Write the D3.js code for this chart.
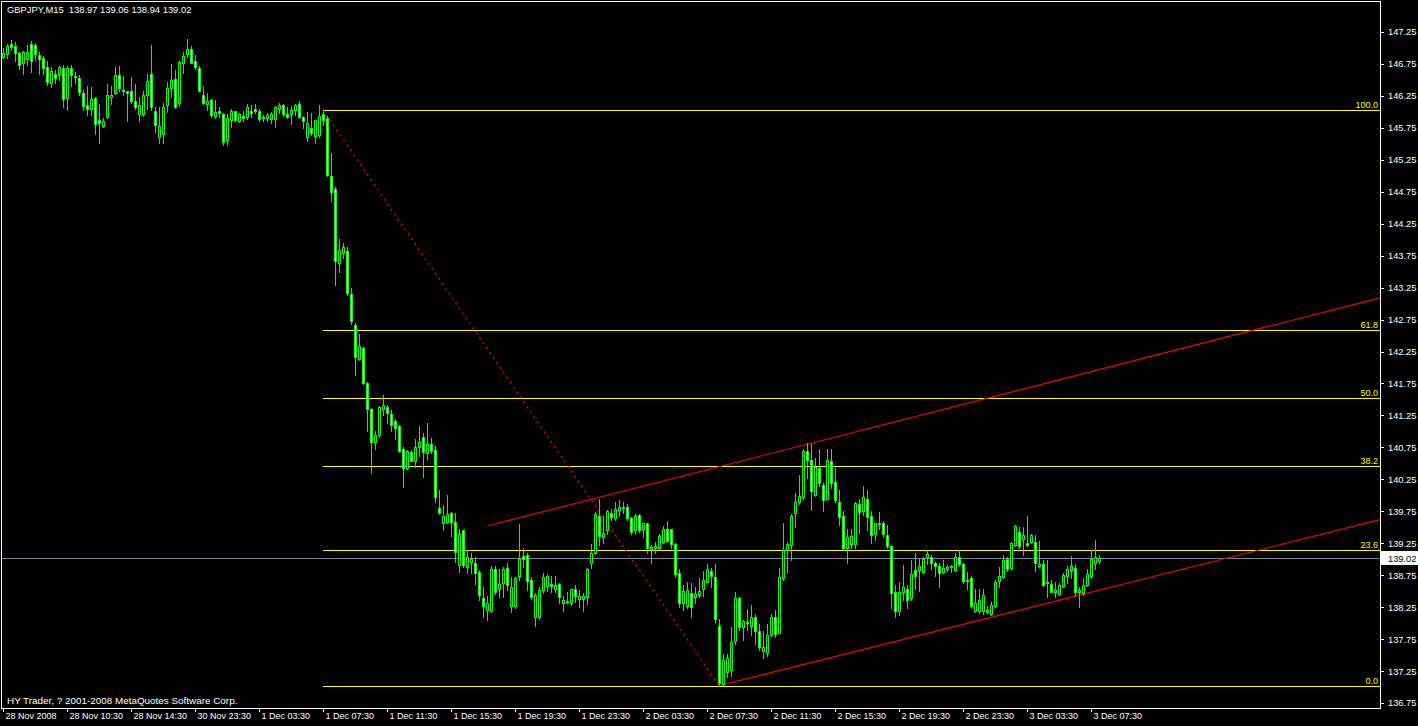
<!DOCTYPE html>
<html><head><meta charset="utf-8">
<script src="https://cdn.jsdelivr.net/npm/d3@7"></script>
<style>
html,body{margin:0;padding:0;background:#000;overflow:hidden}
svg{display:block}
text{font-family:"Liberation Sans",Arial,sans-serif;font-size:9px}
</style></head><body>
<svg id="c" width="1418" height="726"></svg>
<script>
const symbolTitle = "GBPJPY,M15";
const lastQuote = [138.97, 139.06, 138.94, 139.02];
const footerText = "HY Trader, ? 2001-2008 MetaQuotes Software Corp.";

const opens = [
146.86,146.90,147.06,147.03,146.92,146.76,146.82,147.07,147.04,146.89,
146.85,146.71,146.45,146.60,146.58,146.68,146.21,146.68,146.56,146.53,
146.29,146.10,146.04,146.21,145.87,145.78,145.92,146.24,146.29,146.58,
146.35,146.32,146.32,146.17,145.97,145.97,146.26,146.60,146.01,145.61,
145.66,146.10,146.38,146.51,146.14,146.77,146.91,146.99,146.79,146.68,
146.27,146.13,146.19,145.94,146.02,145.96,145.56,145.87,146.01,145.86,
145.94,145.92,146.01,146.04,146.02,145.92,145.90,145.89,145.89,146.05,
146.10,145.97,145.96,146.03,146.12,145.92,145.60,145.74,145.62,145.64,
145.97,145.90,144.99,144.79,143.63,143.79,143.82,143.15,142.66,142.14,
142.30,141.76,141.35,140.84,140.95,141.35,141.38,141.27,141.16,141.08,
140.73,140.42,140.67,140.53,140.76,140.91,140.66,140.81,140.71,139.80,
139.57,139.59,139.73,139.59,138.91,139.45,138.88,138.96,138.94,138.80,
138.40,138.20,138.19,138.84,138.54,138.63,138.86,138.27,138.27,138.73,
139.05,139.07,138.67,138.09,138.10,138.52,138.58,138.61,138.53,138.61,
138.31,138.35,138.31,138.53,138.38,138.38,138.41,138.94,139.10,139.68,
139.35,139.45,139.73,139.64,139.77,139.81,139.81,139.64,139.45,139.69,
139.48,139.56,139.16,139.17,139.17,139.27,139.48,139.47,139.24,138.79,
138.32,138.27,138.47,138.41,138.44,138.54,138.65,138.82,138.72,137.96,
137.05,137.24,137.26,137.72,138.39,137.94,138.00,137.95,138.09,137.87,
137.57,137.53,137.82,138.09,137.85,138.70,139.15,139.22,139.73,139.90,
139.97,140.70,140.55,140.00,140.42,140.16,139.95,140.54,140.21,139.90,
139.68,139.17,139.24,139.24,139.87,139.76,139.95,139.68,139.40,139.55,
139.56,139.38,139.20,138.48,138.19,138.48,138.53,138.39,138.83,138.83,
138.80,139.03,139.03,138.94,138.90,138.80,138.85,138.88,138.83,139.03,
138.93,138.66,138.70,138.19,138.19,138.19,138.18,138.15,138.27,138.66,
138.72,139.00,138.86,139.22,139.43,139.31,139.26,139.27,139.27,138.89,
138.92,138.63,138.61,138.49,138.45,138.58,138.74,138.83,138.86,138.48,
138.47,138.60,138.74,138.94,138.97];

const highs = [
147.00,147.07,147.12,147.09,146.94,146.96,147.05,147.11,147.08,146.94,
146.87,146.79,146.71,146.66,146.72,146.74,146.72,146.74,146.63,146.58,
146.35,146.40,146.39,146.24,146.12,145.90,146.44,146.40,146.71,146.72,
146.56,146.33,146.55,146.44,146.24,146.33,146.60,147.05,146.07,146.08,
146.14,146.47,146.75,146.66,146.79,146.93,147.14,147.03,146.89,146.72,
146.40,146.30,146.20,146.19,146.08,145.99,145.97,146.05,146.02,145.98,
146.01,146.12,146.11,146.13,146.05,145.95,145.98,146.00,146.09,146.14,
146.13,146.07,146.09,146.12,146.17,145.94,146.00,145.99,145.88,146.11,
146.03,145.94,145.35,144.82,144.01,143.95,143.89,143.25,142.70,142.52,
142.32,141.78,141.36,141.01,141.40,141.57,141.41,141.33,141.19,141.10,
140.75,140.71,140.71,140.88,141.08,140.97,141.13,140.89,140.77,140.09,
139.85,140.00,139.74,139.72,139.48,139.46,139.15,139.09,139.04,138.83,
138.56,138.42,138.89,138.89,138.84,138.88,138.94,138.72,138.72,139.55,
139.17,139.09,138.72,138.47,138.56,138.79,138.77,138.74,138.74,138.63,
138.42,138.49,138.54,138.60,138.52,138.47,138.86,139.24,139.74,139.95,
139.68,139.77,139.78,139.90,139.92,139.90,139.86,139.66,139.71,139.71,
139.57,139.57,139.22,139.27,139.40,139.52,139.60,139.48,139.25,138.84,
138.60,138.65,138.62,138.57,138.70,138.82,138.93,138.87,138.93,138.06,
137.52,137.52,137.94,138.48,138.41,138.05,138.22,138.28,138.15,137.99,
137.87,137.99,138.15,138.20,138.86,139.56,139.27,139.71,140.04,140.32,
140.72,140.82,140.81,140.59,140.73,140.19,140.73,140.73,140.42,140.09,
139.76,139.47,139.47,139.90,139.95,140.14,140.09,139.76,139.57,139.74,
139.60,139.53,139.21,138.60,138.65,138.91,138.60,138.98,139.09,139.00,
139.03,139.15,139.07,138.96,138.94,138.98,138.91,138.91,139.09,139.14,
138.94,138.80,138.74,138.53,138.54,138.53,138.27,138.33,138.67,138.88,
139.07,139.03,139.27,139.53,139.51,139.50,139.68,139.40,139.38,139.29,
138.98,138.99,138.68,138.65,138.62,138.79,138.89,139.05,138.92,138.56,
138.70,138.84,139.14,139.30,139.06];

const lows = [
146.84,146.85,146.97,146.79,146.67,146.60,146.73,146.63,146.81,146.60,
146.60,146.42,146.39,146.45,146.50,146.07,146.03,146.40,146.45,146.26,
146.03,145.95,145.95,145.66,145.52,145.77,145.91,146.13,146.28,146.33,
146.26,145.85,146.14,146.04,145.86,145.94,146.04,146.03,145.69,145.51,
145.51,146.00,146.24,146.06,146.09,146.61,146.86,146.76,146.67,146.32,
146.13,146.03,145.92,145.90,145.92,145.48,145.48,145.76,145.85,145.84,
145.85,145.89,145.92,145.98,145.85,145.86,145.85,145.83,145.77,145.99,
145.94,145.90,145.81,145.95,145.91,145.74,145.55,145.64,145.52,145.60,
145.79,144.99,144.61,143.29,143.50,143.71,143.13,142.68,141.88,142.12,
141.74,141.01,140.35,140.73,140.91,141.26,141.13,141.01,140.88,140.68,
140.13,140.41,140.53,140.44,140.61,140.29,140.57,140.66,139.90,139.71,
139.45,139.57,139.36,138.96,138.80,138.88,138.79,138.78,138.61,138.36,
138.10,138.05,138.18,138.45,138.41,138.41,138.52,138.18,138.23,138.67,
138.88,138.52,138.37,137.96,138.07,138.47,138.51,138.49,138.48,138.31,
138.19,138.31,138.28,138.33,138.26,138.19,138.30,138.86,139.08,139.22,
139.25,139.40,139.62,139.62,139.68,139.73,139.62,139.39,139.40,139.43,
139.34,139.09,138.94,139.10,139.15,139.25,139.27,139.17,138.72,138.26,
138.20,138.23,138.09,138.32,138.41,138.42,138.64,138.56,138.02,137.02,
137.03,137.15,137.17,137.68,137.90,137.74,137.89,137.81,137.67,137.58,
137.46,137.48,137.80,137.78,137.84,138.68,138.80,138.99,139.51,139.86,
139.95,140.27,139.77,139.99,140.14,139.76,139.94,140.11,139.90,139.53,
139.15,138.94,139.17,139.17,139.41,139.69,139.46,139.26,139.30,139.47,
139.34,139.17,138.23,138.09,138.13,138.36,138.23,138.36,138.53,138.51,
138.79,138.92,138.84,138.74,138.56,138.79,138.82,138.80,138.82,138.89,
138.63,138.53,138.25,138.18,138.16,138.15,138.16,138.13,138.26,138.56,
138.70,138.82,138.84,139.20,139.17,139.07,139.20,139.26,138.82,138.88,
138.58,138.41,138.48,138.41,138.44,138.56,138.63,138.70,138.44,138.25,
138.44,138.58,138.70,138.84,138.94];

const closes = [
146.92,147.03,147.01,146.92,146.74,146.93,146.94,146.80,146.91,146.82,
146.68,146.46,146.64,146.53,146.70,146.20,146.68,146.58,146.54,146.31,
146.09,146.04,146.20,145.81,145.82,145.85,146.26,146.27,146.58,146.37,
146.32,146.29,146.17,146.07,146.11,146.26,146.49,146.08,145.79,145.78,
146.08,146.38,146.50,146.07,146.78,146.87,146.99,146.77,146.70,146.33,
146.14,146.17,145.95,146.00,145.99,145.53,145.90,146.01,145.87,145.96,
145.90,146.07,145.99,146.02,145.89,145.90,145.95,145.97,146.07,146.10,
145.97,145.92,146.03,146.11,145.92,145.86,145.82,145.67,145.87,145.94,
145.88,145.01,144.75,143.66,143.84,143.88,143.16,142.73,142.16,142.34,
141.75,141.35,140.84,140.95,141.38,141.41,141.29,141.10,141.06,140.70,
140.42,140.70,140.54,140.75,140.84,140.68,140.80,140.70,139.97,139.73,
139.68,139.71,139.59,139.12,139.40,138.91,139.03,139.01,138.78,138.44,
138.27,138.31,138.84,138.49,138.61,138.84,138.60,138.56,138.70,139.00,
139.01,138.66,138.41,138.44,138.52,138.72,138.74,138.58,138.59,138.41,
138.36,138.33,138.53,138.42,138.42,138.42,138.84,139.09,139.71,139.36,
139.41,139.76,139.66,139.78,139.81,139.80,139.64,139.43,139.68,139.45,
139.56,139.17,139.19,139.21,139.36,139.48,139.29,139.24,138.77,138.32,
138.51,138.52,138.26,138.45,138.51,138.67,138.84,138.73,138.07,137.07,
137.43,137.45,137.70,138.39,137.94,138.03,138.02,138.09,137.87,137.62,
137.62,137.82,138.10,137.83,138.72,139.15,139.24,139.68,139.90,139.99,
140.70,140.55,140.06,140.44,140.19,139.93,140.56,140.20,139.93,139.66,
139.17,139.34,139.36,139.88,139.74,139.97,139.66,139.38,139.56,139.56,
139.39,139.20,138.47,138.19,138.49,138.56,138.36,138.77,138.74,138.89,
139.00,139.08,138.94,138.89,138.79,138.86,138.88,138.89,139.04,138.93,
138.66,138.68,138.27,138.31,138.36,138.44,138.20,138.28,138.65,138.74,
138.99,138.84,139.25,139.52,139.20,139.38,139.22,139.38,138.94,138.92,
138.60,138.65,138.49,138.52,138.60,138.75,138.84,138.89,138.48,138.52,
138.60,138.77,139.00,139.03,139.02];

const timeTickBars = [0,16,32,48,64,80,96,112,128,144,160,176,192,208,224,240,256,272];
const timeTickLabels = ["28 Nov 2008","28 Nov 10:30","28 Nov 14:30","30 Nov 23:30","1 Dec 03:30",
  "1 Dec 07:30","1 Dec 11:30","1 Dec 15:30","1 Dec 19:30","1 Dec 23:30","2 Dec 03:30","2 Dec 07:30",
  "2 Dec 11:30","2 Dec 15:30","2 Dec 19:30","2 Dec 23:30","3 Dec 03:30","3 Dec 07:30"];
const priceTicks = [147.25,146.75,146.25,145.75,145.25,144.75,144.25,143.75,143.25,142.75,
  142.25,141.75,141.25,140.75,140.25,139.75,139.25,138.75,138.25,137.75,137.25,136.75];

const fibHigh = {bar: 80, price: 146.03};
const fibLow = {bar: 179, price: 137.02};
const fibLevels = [0, 23.6, 38.2, 50, 61.8, 100];
const channelLower = [[179, 137.02], [344.25, 139.62]];
const channelUpper = [[121, 139.52], [344.25, 143.09]];
const currentPrice = 139.02;

// ---- layout
const W = 1418, H = 726;
const plotL = 2, plotR = 1380, plotT = 2, plotB = 708;
const FONT = '"Liberation Sans",Arial,sans-serif';
const svg = d3.select("#c");
svg.append("rect").attr("width", W).attr("height", H).attr("fill", "#000");

const x = d3.scaleLinear().domain([0, 344.25]).range([3, 1380]);
const y = d3.scaleLinear().domain([136.75, 147.25]).range([703, 32]);

const defs = svg.append("defs");
defs.append("clipPath").attr("id", "plotclip").append("rect")
  .attr("x", plotL).attr("y", plotT).attr("width", plotR - plotL).attr("height", plotB - plotT);

const g = svg.append("g").attr("clip-path", "url(#plotclip)");
const px = v => Math.round(v) + 0.5;

// current price line
g.append("line").attr("x1", plotL).attr("x2", plotR)
  .attr("y1", px(y(currentPrice))).attr("y2", px(y(currentPrice)))
  .attr("stroke", "#778899").attr("stroke-width", 1).attr("shape-rendering", "crispEdges");

// fibo lines
const fibRange = fibHigh.price - fibLow.price;
const fibs = fibLevels.map(l => ({l, p: fibLow.price + fibRange * l / 100}));
g.selectAll(".fib").data(fibs).join("line")
  .attr("x1", x(fibHigh.bar)).attr("x2", plotR)
  .attr("y1", d => px(y(d.p))).attr("y2", d => px(y(d.p)))
  .attr("stroke", "#ffff00").attr("stroke-width", 1).attr("shape-rendering", "crispEdges");
g.selectAll(".fibt").data(fibs).join("text")
  .attr("x", 1378).attr("y", d => Math.round(y(d.p)) - 2)
  .attr("text-anchor", "end").attr("fill", "#ffff00")
  .text(d => d.l.toFixed(1));

// fibo trend line (dotted)
g.append("line")
  .attr("x1", x(fibHigh.bar)).attr("y1", y(fibHigh.price))
  .attr("x2", x(fibLow.bar)).attr("y2", y(fibLow.price))
  .attr("stroke", "#ff0000").attr("stroke-width", 1.4).attr("stroke-dasharray", "2,4");

// channel
[channelLower, channelUpper].forEach(c => {
  g.append("line")
    .attr("x1", x(c[0][0])).attr("y1", y(c[0][1]))
    .attr("x2", x(c[1][0])).attr("y2", y(c[1][1]))
    .attr("stroke", "#ff0000").attr("stroke-width", 1.1);
});

// candles
const bars = opens.map((o, i) => ({i, o, h: highs[i], l: lows[i], c: closes[i]}));
const cg = g.append("g").attr("shape-rendering", "crispEdges");
cg.selectAll(".wick").data(bars).join("line")
  .attr("x1", d => px(x(d.i))).attr("x2", d => px(x(d.i)))
  .attr("y1", d => Math.round(y(d.h))).attr("y2", d => Math.round(y(d.l)) + 1)
  .attr("stroke", "#00ff00").attr("stroke-width", 1);
cg.selectAll(".body").data(bars).join("rect")
  .attr("x", d => Math.round(x(d.i)) - 0.5)
  .attr("width", 2)
  .attr("y", d => px(y(Math.max(d.o, d.c))))
  .attr("height", d => Math.max(0, Math.round(y(Math.min(d.o, d.c))) - Math.round(y(Math.max(d.o, d.c)))))
  .attr("fill", d => d.c > d.o ? "#000" : "#fff")
  .attr("stroke", "#00ff00").attr("stroke-width", 1);

// border
svg.append("rect").attr("x", plotL - 0.5).attr("y", plotT - 0.5)
  .attr("width", plotR - plotL + 0.5).attr("height", plotB - plotT + 0.5)
  .attr("fill", "none").attr("stroke", "#fff").attr("stroke-width", 1).attr("shape-rendering", "crispEdges");

// price axis
const ya = svg.append("g").attr("transform", `translate(${plotR},0)`)
  .call(d3.axisRight(y).tickValues(priceTicks).tickFormat(d3.format(".2f")).tickSize(4).tickPadding(4));
ya.select(".domain").remove();
ya.selectAll("line").attr("stroke", "#fff").attr("shape-rendering", "crispEdges");
ya.selectAll("text").attr("fill", "#fff").style("font-size", "9.3px").style("font-family", FONT);

// current price label
const cpY = Math.round(y(currentPrice));
svg.append("rect").attr("x", plotR + 1).attr("y", cpY - 7).attr("width", W - plotR - 1).attr("height", 14).attr("fill", "#fff");
svg.append("text").attr("x", plotR + 8).attr("y", cpY + 3.5).attr("fill", "#000")
  .style("font-size", "9.3px").text(currentPrice.toFixed(2));

// time axis
const xa = svg.append("g").attr("transform", `translate(0,${plotB})`)
  .call(d3.axisBottom(x).tickValues(timeTickBars).tickFormat((d, k) => timeTickLabels[k]).tickSize(4));
xa.select(".domain").remove();
xa.selectAll("line").attr("stroke", "#fff").attr("shape-rendering", "crispEdges");
xa.selectAll("text").attr("fill", "#fff").attr("text-anchor", "start")
  .attr("x", 2).attr("y", 5).attr("dy", "0.71em")
  .style("font-size", "9px").style("font-family", FONT);

// title and footer
svg.append("text").attr("x", 7).attr("y", 13).attr("fill", "#fff").attr("xml:space", "preserve")
  .style("font-size", "9.4px")
  .text(symbolTitle + "  " + lastQuote.map(v => v.toFixed(2)).join(" "));
svg.append("text").attr("x", 7).attr("y", 704).attr("fill", "#fff")
  .style("font-size", "9.9px").text(footerText);
</script>
</body></html>
